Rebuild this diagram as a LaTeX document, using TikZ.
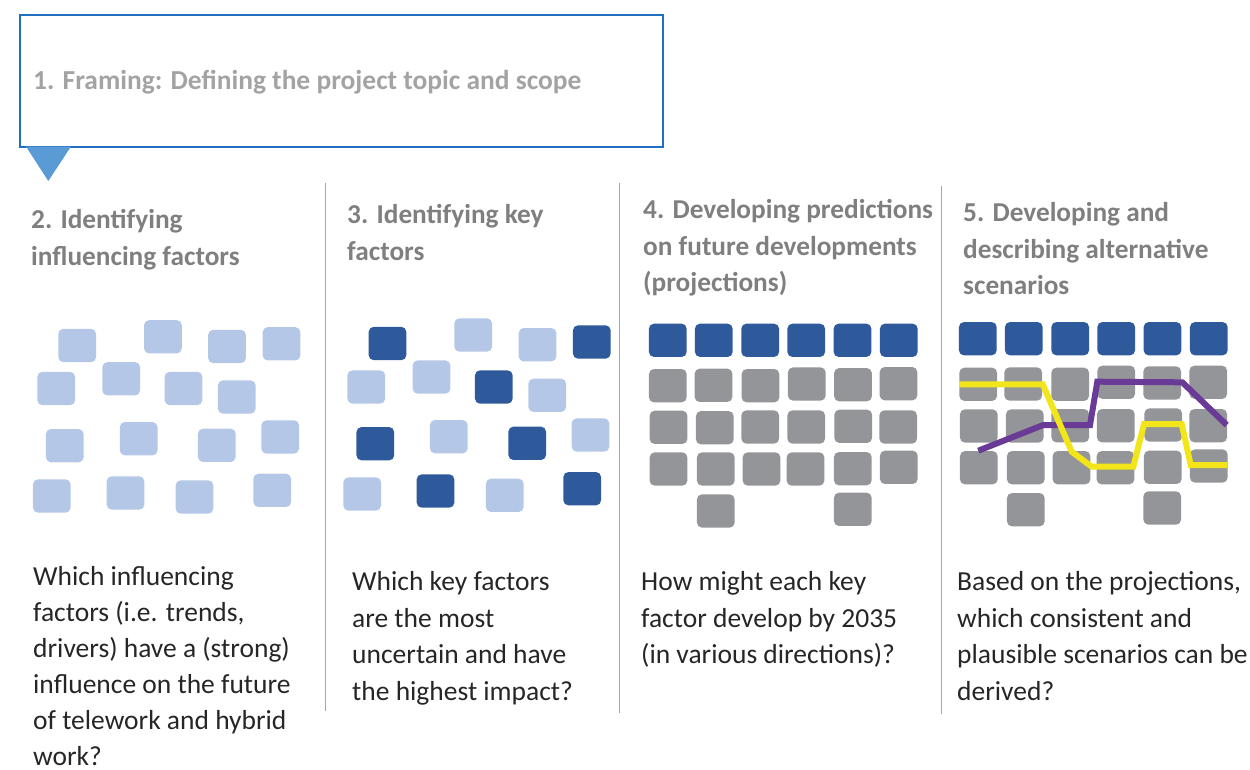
\documentclass[tikz,border=0pt]{standalone}
\usepackage{fontspec}
\setmainfont{Carlito}
\definecolor{boxblue}{HTML}{1F70C1}
\definecolor{triblue}{HTML}{5B9BD5}
\definecolor{lblue}{HTML}{B4C7E7}
\definecolor{dblue}{HTML}{2E5A9B}
\definecolor{sqgray}{HTML}{939598}
\definecolor{headgray}{HTML}{7F7F7F}
\definecolor{framegray}{HTML}{A3A3A3}
\definecolor{bodyblack}{HTML}{262626}
\definecolor{seqgray}{HTML}{A6A6A6}
\definecolor{lpurple}{HTML}{6A3A97}
\definecolor{lyellow}{HTML}{F2E51A}
\tikzset{
  sqbase/.style={minimum width=37.7pt,minimum height=33.3pt,inner sep=0pt,rounded corners=5pt,draw=none},
  lsq/.style={sqbase,fill=lblue},
  dsq/.style={sqbase,fill=dblue},
  gsq/.style={sqbase,fill=sqgray},
  headtxt/.style={anchor=base west,inner sep=0pt,text=headgray,font=\fontsize{27.3}{36.5}\selectfont\bfseries},
  bodytxt/.style={anchor=base west,inner sep=0pt,text=bodyblack,font=\fontsize{27.5}{36.5}\selectfont},
  sepline/.style={draw=seqgray,line width=1.2pt},
  scenline/.style={line width=6pt,line join=miter}
}
\begin{document}
\begin{tikzpicture}[x=1pt,y=-1pt]
\useasboundingbox (0,0) rectangle (1250,769);
% framing box
\node[draw=boxblue,line width=2.2pt,minimum width=643pt,minimum height=132pt,anchor=north west,inner sep=0pt] (frame) at (19,13.5) {};
\node[anchor=base west,inner sep=0pt,text=framegray,font=\fontsize{27.45}{36.5}\selectfont\bfseries] (frametxt) at (33,89) {1. Framing: Defining the project topic and scope};
\coordinate (tl) at (26,146.5);
\coordinate (tr) at (71,146.5);
\coordinate (tt) at (48.3,181);
\fill[triblue] (tl) -- (tr) -- (tt) -- cycle;
% separators
\coordinate (s1a) at (325.7,183); \coordinate (s1b) at (325.7,711);
\coordinate (s2a) at (619.5,183); \coordinate (s2b) at (619.5,713);
\coordinate (s3a) at (941.7,186); \coordinate (s3b) at (941.7,714);
\draw[sepline] (s1a) -- (s1b);
\draw[sepline] (s2a) -- (s2b);
\draw[sepline] (s3a) -- (s3b);
% headings
\node[headtxt] (h2a) at (31,228.3) {2. Identifying};
\node[headtxt] (h2b) at (31,265) {influencing factors};
\node[headtxt] (h3a) at (347,223.5) {3. Identifying key};
\node[headtxt] (h3b) at (347,260) {factors};
\node[headtxt] (h4a) at (643,218.5) {4. Developing predictions};
\node[headtxt] (h4b) at (643,255) {on future developments};
\node[headtxt] (h4c) at (643,291.5) {(projections)};
\node[headtxt] (h5a) at (963,221.5) {5. Developing and};
\node[headtxt] (h5b) at (963,258) {describing alternative};
\node[headtxt] (h5c) at (963,294.5) {scenarios};
% body texts
\foreach \t [count=\i] in {{Which influencing},{factors (i.e. trends,},{drivers) have a (strong)},{influence on the future},{of telework and hybrid},{work?}}
  \node[bodytxt] (b2-\i) at (33,{585+36.1*(\i-1)}) {\t};
\foreach \t [count=\i] in {{Which key factors},{are the most},{uncertain and have},{the highest impact?}}
  \node[bodytxt] (b3-\i) at (352,{590.7+36.5*(\i-1)}) {\t};
\foreach \t [count=\i] in {{How might each key},{factor develop by 2035},{(in various directions)?}}
  \node[bodytxt] (b4-\i) at (641,{590.7+36.5*(\i-1)}) {\t};
\foreach \t [count=\i] in {{Based on the projections,},{which consistent and},{plausible scenarios can be},{derived?}}
  \node[bodytxt] (b5-\i) at (957,{590.7+36.5*(\i-1)}) {\t};
% column 2 squares
\foreach \x/\y [count=\i] in {77.2/345.5,162.9/336.8,227/346.5,281.5/343.8,56.2/388.5,121.2/378.8,183.5/388.5,236.8/397,64.8/445.7,138.7/438.7,216.8/445.3,280.2/437,51.8/496,125.5/493,194.5/497,272.2/490.3}
  \node[lsq] (c2-\i) at (\x,\y) {};
% column 3 squares
\foreach \x/\y/\s [count=\i] in {387.5/343.5/dsq,473.2/335/lsq,537.5/344.7/lsq,591.8/342/dsq,366.3/387/lsq,431.5/377/lsq,493.8/387/dsq,547.2/395.3/lsq,375.3/443.7/dsq,448.8/436.7/lsq,527.2/443.3/dsq,590.5/435/lsq,362.2/494/lsq,435.5/491/dsq,504.8/495.3/lsq,582.2/488.7/dsq}
  \node[\s] (c3-\i) at (\x,\y) {};
% column 4 squares
\foreach \x [count=\i] in {667.8,713.8,760.2,806.2,852.5,898.8}
  \node[dsq] (c4t-\i) at (\x,340.3) {};
\foreach \x/\y [count=\i] in {667.8/385.7,713.5/385.3,760.5/385.7,806.8/384,853/384.7,898.5/383.7,668.5/427.3,714.8/427.7,760.2/427,806.2/427,853.2/426.3,898.2/427,668.5/469,715.8/469,761.5/469,805.5/469,852.8/468.7,898.8/467.3,715.8/511,852.8/509.3}
  \node[gsq] (c4-\i) at (\x,\y) {};
% column 5 squares
\foreach \x [count=\i] in {977.8,1023.8,1070.2,1116.2,1162.5,1208.8}
  \node[dsq] (c5t-\i) at (\x,338.7) {};
\foreach \x/\y [count=\i] in {978.2/384.3,1023.2/384,1070.2/384.3,1116.2/382.3,1162.2/383,1208.2/382.3,978.8/426,1024.8/426,1070.2/425.7,1115.8/425.7,1163.2/425,1208.2/425.7,978.8/467.7,1025.8/467.7,1071.5/467.7,1115.5/467.7,1162.8/467.3,1208.8/466,1025.8/509.7,1162.2/508}
  \node[gsq] (c5-\i) at (\x,\y) {};
% scenario lines
\coordinate (p1) at (978.3,450.7);
\coordinate (p2) at (1043.3,425);
\coordinate (p3) at (1090,425);
\coordinate (p4) at (1097.3,381.7);
\coordinate (p5) at (1182.3,382.3);
\coordinate (p6) at (1226.7,425);
\draw[scenline,lpurple] (p1) -- (p2) -- (p3) -- (p4) -- (p5) -- (p6);
\coordinate (y1) at (959,384.3);
\coordinate (y2) at (1042.7,384.3);
\coordinate (y3) at (1071.7,451.7);
\coordinate (y4) at (1091.7,466.7);
\coordinate (y5) at (1133.3,466.7);
\coordinate (y6) at (1144,424);
\coordinate (y7) at (1181.7,424);
\coordinate (y8) at (1190.7,465);
\coordinate (y9) at (1227.3,465);
\draw[scenline,lyellow] (y1) -- (y2) -- (y3) -- (y4) -- (y5) -- (y6) -- (y7) -- (y8) -- (y9);
\end{tikzpicture}
\end{document}
